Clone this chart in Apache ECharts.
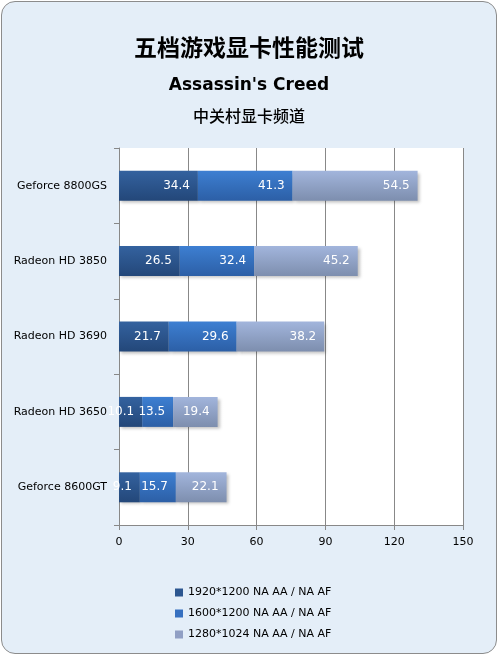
<!DOCTYPE html>
<html>
<head>
<meta charset="utf-8">
<script src="https://cdn.jsdelivr.net/npm/echarts@6/dist/echarts.min.js"></script>
<style>
html, body { margin: 0; padding: 0; background: #ffffff; }
#wrap {
    position: absolute; left: 1px; top: 1px; width: 494px; height: 651px;
    border: 1px solid #8c8c8c; border-radius: 14px; background: #e4eef8; overflow: hidden;
}
#main { width: 494px; height: 651px; }
</style>
</head>
<body>
<div id="wrap"><div id="main"></div></div>
<script>
var cards = ['Geforce 8800GS', 'Radeon HD 3850', 'Radeon HD 3690', 'Radeon HD 3650', 'Geforce 8600GT'];
var seriesNames = ['1920*1200 NA AA / NA AF', '1600*1200 NA AA / NA AF', '1280*1024 NA AA / NA AF'];
var res1920 = [34.4, 26.5, 21.7, 10.1, 9.1];
var res1600 = [41.3, 32.4, 29.6, 13.5, 15.7];
var res1280 = [54.5, 45.2, 38.2, 19.4, 22.1];
var xTicks = [0, 30, 60, 90, 120, 150];

// gradient colours for each series: top, bottom
var colorsTop = ['#34629f', '#3d7fd2', '#a2b5dc'];
var colorsBottom = ['#234779', '#2c5fa6', '#7d8eae'];
var legendColors = ['#2c5690', '#3670c0', '#909fc4'];

function makeSeries(idx, data) {
    return {
        name: seriesNames[idx],
        type: 'bar',
        stack: 'total',
        barWidth: 30,
        data: data,
        itemStyle: {
            color: new echarts.graphic.LinearGradient(0, 0, 0, 1, [
                { offset: 0, color: colorsTop[idx] },
                { offset: 1, color: colorsBottom[idx] }
            ]),
            shadowColor: 'rgba(0,0,0,0.25)',
            shadowBlur: 3,
            shadowOffsetX: 2,
            shadowOffsetY: 2
        },
        label: {
            show: true,
            position: 'insideRight',
            distance: 8,
            color: '#ffffff',
            fontFamily: 'DejaVu Sans',
            fontSize: 12
        },
        emphasis: { disabled: true }
    };
}

var myChart = echarts.init(document.getElementById('main'));

var option = {
    animation: false,
    title: [
        {
            text: '五档游戏显卡性能测试',
            left: 'center', top: 29,
            textStyle: { fontFamily: 'Noto Sans CJK SC', fontWeight: 'bold', fontSize: 23, color: '#000' }
        },
        {
            text: "Assassin's Creed",
            left: 'center', top: 70,
            textStyle: { fontFamily: 'DejaVu Sans', fontWeight: 'bold', fontSize: 17, color: '#000' }
        },
        {
            text: '中关村显卡频道',
            left: 'center', top: 101,
            textStyle: { fontFamily: 'Noto Sans CJK SC', fontWeight: 500, fontSize: 16, color: '#000' }
        }
    ],
    legend: {
        orient: 'vertical',
        left: 168,
        top: 580,
        itemWidth: 8,
        itemHeight: 8,
        itemGap: 10,
        icon: 'rect',
        selectedMode: false,
        textStyle: { fontFamily: 'DejaVu Sans', fontSize: 11, color: '#000' },
        data: seriesNames.map(function (n, i) {
            return { name: n, itemStyle: { color: legendColors[i] } };
        })
    },
    grid: {
        show: true,
        backgroundColor: '#ffffff',
        borderWidth: 0,
        left: 117,
        right: 33,
        top: 146,
        bottom: 128
    },
    xAxis: {
        type: 'value',
        min: xTicks[0],
        max: xTicks[xTicks.length - 1],
        interval: 30,
        axisLine: { show: true, lineStyle: { color: '#888888' } },
        axisTick: { show: true, length: 5, lineStyle: { color: '#888888' } },
        axisLabel: { color: '#000', fontFamily: 'DejaVu Sans', fontSize: 11, margin: 12 },
        splitLine: { show: true, lineStyle: { color: '#888888', width: 1 } }
    },
    yAxis: {
        type: 'category',
        inverse: true,
        data: cards,
        axisLine: { show: true, lineStyle: { color: '#888888' } },
        axisTick: { show: true, length: 5, lineStyle: { color: '#888888' } },
        axisLabel: { color: '#000', fontFamily: 'DejaVu Sans', fontSize: 11, margin: 12 },
        splitLine: { show: false }
    },
    series: [
        makeSeries(0, res1920),
        makeSeries(1, res1600),
        makeSeries(2, res1280)
    ]
};

myChart.setOption(option);
</script>
</body>
</html>
